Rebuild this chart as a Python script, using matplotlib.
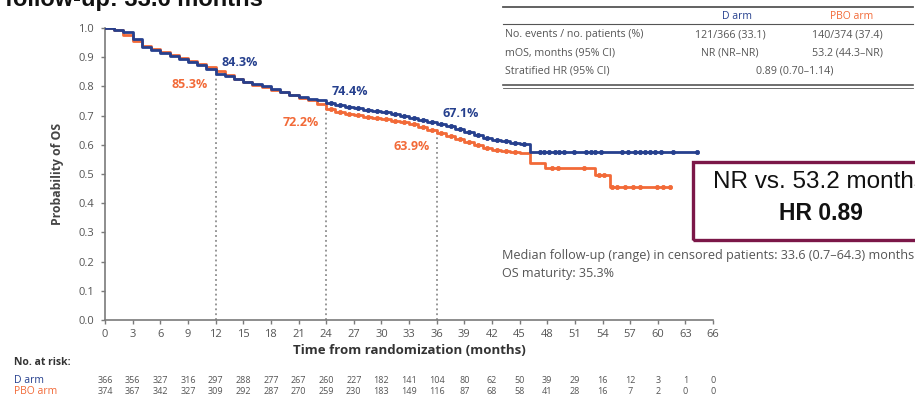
import numpy as np
import matplotlib.pyplot as plt
from matplotlib.patches import Rectangle

plt.rcParams['font.family'] = ['Open Sans', 'DejaVu Sans']

BLUE = '#26408e'
ORANGE = '#f26a38'
GREY = '#7a7a7a'
TXT = '#555555'

# Kaplan-Meier step points (month, survival)
d_time = [0, 1, 2, 3, 4, 5, 6, 7, 8, 9, 10, 11, 12, 13, 14, 15, 16, 17, 18, 19, 20,
          21, 22, 23, 24, 25, 26, 27, 28, 29, 30, 31, 32, 33, 34, 35, 36, 37, 38, 39,
          40, 41, 42, 43, 44, 45, 46.1, 64.3]
d_surv = [1.0, 0.995, 0.985, 0.962, 0.935, 0.925, 0.915, 0.905, 0.895, 0.885, 0.872,
          0.86, 0.843, 0.835, 0.825, 0.815, 0.808, 0.80, 0.79, 0.782, 0.772, 0.765,
          0.758, 0.752, 0.744, 0.737, 0.731, 0.726, 0.721, 0.716, 0.711, 0.706, 0.70,
          0.693, 0.686, 0.679, 0.671, 0.665, 0.655, 0.645, 0.635, 0.625, 0.618, 0.612,
          0.607, 0.603, 0.575, 0.575]
pbo_time = [0, 1, 2, 3, 4, 5, 6, 7, 8, 9, 10, 11, 12, 13, 14, 15, 16, 17, 18, 19, 20,
            21, 22, 23, 24, 25, 26, 27, 28, 29, 30, 31, 32, 33, 34, 35, 36, 37, 38, 39,
            40, 41, 42, 43, 44, 45, 46.1, 47.8, 53.2, 54.8, 61.3]
pbo_surv = [1.0, 0.995, 0.975, 0.955, 0.938, 0.928, 0.918, 0.908, 0.898, 0.888, 0.876,
            0.866, 0.853, 0.838, 0.826, 0.815, 0.806, 0.798, 0.789, 0.78, 0.771, 0.762,
            0.752, 0.74, 0.722, 0.713, 0.707, 0.702, 0.697, 0.692, 0.687, 0.682, 0.677,
            0.67, 0.662, 0.652, 0.639, 0.63, 0.62, 0.61, 0.60, 0.59, 0.582, 0.578,
            0.575, 0.572, 0.538, 0.52, 0.497, 0.455, 0.455]

# censoring marks
d_cens_t = [24.5, 25.5, 26.5, 27.5, 28.5, 29.5, 30.5, 31.5, 32.5, 33.5, 34.5, 35.5,
            36.5, 37.5, 38.5, 39.5, 40.5, 41.5, 42.5, 43.5, 44.5, 45.5, 47.2, 47.7,
            48.2, 48.8, 49.3, 49.8, 50.9, 52.2, 52.7, 53.2, 53.8, 56.1, 56.8, 57.5,
            58.1, 58.6, 59.2, 59.7, 60.4, 61.7, 64.3]
pbo_cens_t = [24.5, 25.5, 26.5, 27.5, 28.5, 29.5, 30.5, 31.5, 32.5, 33.5, 34.5, 35.5,
              36.5, 37.5, 38.5, 39.5, 40.5, 41.5, 42.5, 43.5, 44.5, 48.5, 49.2, 52.0,
              53.6, 54.2, 55.0, 55.6, 56.4, 57.3, 58.1, 59.9, 60.6, 61.3]

landmarks = [12, 24, 36]
d_landmark = [0.843, 0.744, 0.671]
pbo_landmark = [0.853, 0.722, 0.639]

at_risk_t = list(range(0, 67, 3))
d_at_risk = [366, 356, 327, 316, 297, 288, 277, 267, 260, 227, 182, 141, 104, 80, 62,
             50, 39, 29, 16, 12, 3, 1, 0]
pbo_at_risk = [374, 367, 342, 327, 309, 292, 287, 270, 259, 230, 183, 149, 116, 87, 68,
               58, 41, 28, 16, 7, 2, 0, 0]

table_rows = ['No. events / no. patients (%)', 'mOS, months (95% CI)', 'Stratified HR (95% CI)']
d_col = ['121/366 (33.1)', 'NR (NR\u2013NR)']
pbo_col = ['140/374 (37.4)', '53.2 (44.3\u2013NR)']
hr_text = '0.89 (0.70\u20131.14)'


def surv_at(times, surv, t):
    idx = np.searchsorted(times, t, side='right') - 1
    return np.asarray(surv)[idx]


fig = plt.figure(figsize=(9.15, 4.01), dpi=100)
ax = fig.add_axes([0.1148, 0.202, 0.6645, 0.728])

ax.step(pbo_time, pbo_surv, where='post', color=ORANGE, lw=2.0, zorder=3)
ax.step(d_time, d_surv, where='post', color=BLUE, lw=2.0, zorder=4)
ax.plot(pbo_cens_t, surv_at(pbo_time, pbo_surv, pbo_cens_t), 'o', color=ORANGE,
        ms=3, mew=0.6, zorder=3)
ax.plot(d_cens_t, surv_at(d_time, d_surv, d_cens_t), 'o', color=BLUE,
        ms=3, mew=0.6, zorder=4)

for t, dv, pv in zip(landmarks, d_landmark, pbo_landmark):
    ax.plot([t, t], [0, (dv + pv) / 2], ls=(0, (1.2, 2)), color=GREY, lw=1.1, zorder=2)
    ax.text(t + 0.6, dv + 0.038, f'{dv * 100:.1f}%', color=BLUE, fontsize=9,
            fontweight='bold', ha='left', va='center')
    ax.text(t - 0.8, pv - 0.045, f'{pv * 100:.1f}%', color=ORANGE, fontsize=9,
            fontweight='bold', ha='right', va='center')

ax.set_xlim(0, 66)
ax.set_ylim(0, 1.0)
ax.set_xticks(at_risk_t)
yt = np.round(np.arange(0, 1.01, 0.1), 1)
ax.set_yticks(yt)
ax.set_yticklabels([f'{v:.1f}' for v in yt])
for side in ['top', 'right']:
    ax.spines[side].set_visible(False)
for side in ['left', 'bottom']:
    ax.spines[side].set_color(GREY)
    ax.spines[side].set_linewidth(1.2)
ax.tick_params(colors=GREY, labelcolor=TXT, labelsize=8, length=3, width=1)
ax.tick_params(axis='y', pad=5)
ax.set_ylabel('Probability of OS', fontsize=8.8, fontweight='bold', color='#444444', labelpad=10)
ax.set_xlabel('Time from randomization (months)', fontsize=9.5, fontweight='bold',
              color='#333333', labelpad=3)

# number at risk table
fig.text(0.015, 0.097, 'No. at risk:', fontsize=7.5, fontweight='bold', color='#333333', va='center')
fig.text(0.015, 0.050, 'D arm', fontsize=7.5, color=BLUE, va='center')
fig.text(0.015, 0.024, 'PBO arm', fontsize=7.5, color=ORANGE, va='center')
ax_tr = ax.get_xaxis_transform()
row_d = ax.transAxes.inverted().transform(fig.transFigure.transform((0, 0.050)))[1]
row_p = ax.transAxes.inverted().transform(fig.transFigure.transform((0, 0.024)))[1]
for t, dn, pn in zip(at_risk_t, d_at_risk, pbo_at_risk):
    ax.text(t, row_d, str(dn), transform=ax_tr, fontsize=6.5, color=TXT, ha='center', va='center')
    ax.text(t, row_p, str(pn), transform=ax_tr, fontsize=6.5, color=TXT, ha='center', va='center')

# summary table at top right
x0, x1 = 0.550, 0.998
fig.add_artist(plt.Line2D([x0, x1], [0.983, 0.983], color='#555555', lw=1.3))
fig.add_artist(plt.Line2D([x0, x1], [0.940, 0.940], color='#555555', lw=0.8))
fig.add_artist(plt.Line2D([x0, x1], [0.787, 0.787], color='#555555', lw=1.2))
fig.add_artist(plt.Line2D([x0, x1], [0.780, 0.780], color='#555555', lw=0.6))
fig.text(0.805, 0.958, 'D arm', fontsize=7.5, color=BLUE, ha='center', va='center')
fig.text(0.931, 0.958, 'PBO arm', fontsize=7.5, color=ORANGE, ha='center', va='center')
row_y = [0.913, 0.868, 0.823]
for y, lab in zip(row_y, table_rows):
    fig.text(x0 + 0.002, y, lab, fontsize=7.7, color=TXT, va='center')
for y, dv, pv in zip(row_y, d_col, pbo_col):
    fig.text(0.798, y, dv, fontsize=7.7, color=TXT, ha='center', va='center')
    fig.text(0.926, y, pv, fontsize=7.7, color=TXT, ha='center', va='center')
fig.text(0.869, row_y[2], hr_text, fontsize=7.7, color=TXT, ha='center', va='center')

# highlighted result box
fig.add_artist(Rectangle((0.757, 0.401), 0.3, 0.195, transform=fig.transFigure,
                         fill=False, ec='#7b1748', lw=2.4, clip_on=False))
fig.text(0.779, 0.546, 'NR vs. 53.2 months', fontsize=17.5, family='Liberation Sans',
         color='#111111', va='center', ha='left')
fig.text(0.897, 0.468, 'HR 0.89', fontsize=16.5, family='Liberation Sans',
         fontweight='bold', color='#111111', va='center', ha='center')

fig.text(0.549, 0.364, 'Median follow-up (range) in censored patients: 33.6 (0.7\u201364.3) months',
         fontsize=9.1, color=TXT, va='center')
fig.text(0.549, 0.319, 'OS maturity: 35.3%', fontsize=9.1, color=TXT, va='center')

# heading cut at the top edge
fig.text(0.287, 0.986, 'Median follow-up: 33.6 months', fontsize=17, fontweight='bold',
         family='Liberation Sans', color='#111111', ha='right', va='baseline')

fig.savefig('out.png', dpi=100, facecolor='white')
